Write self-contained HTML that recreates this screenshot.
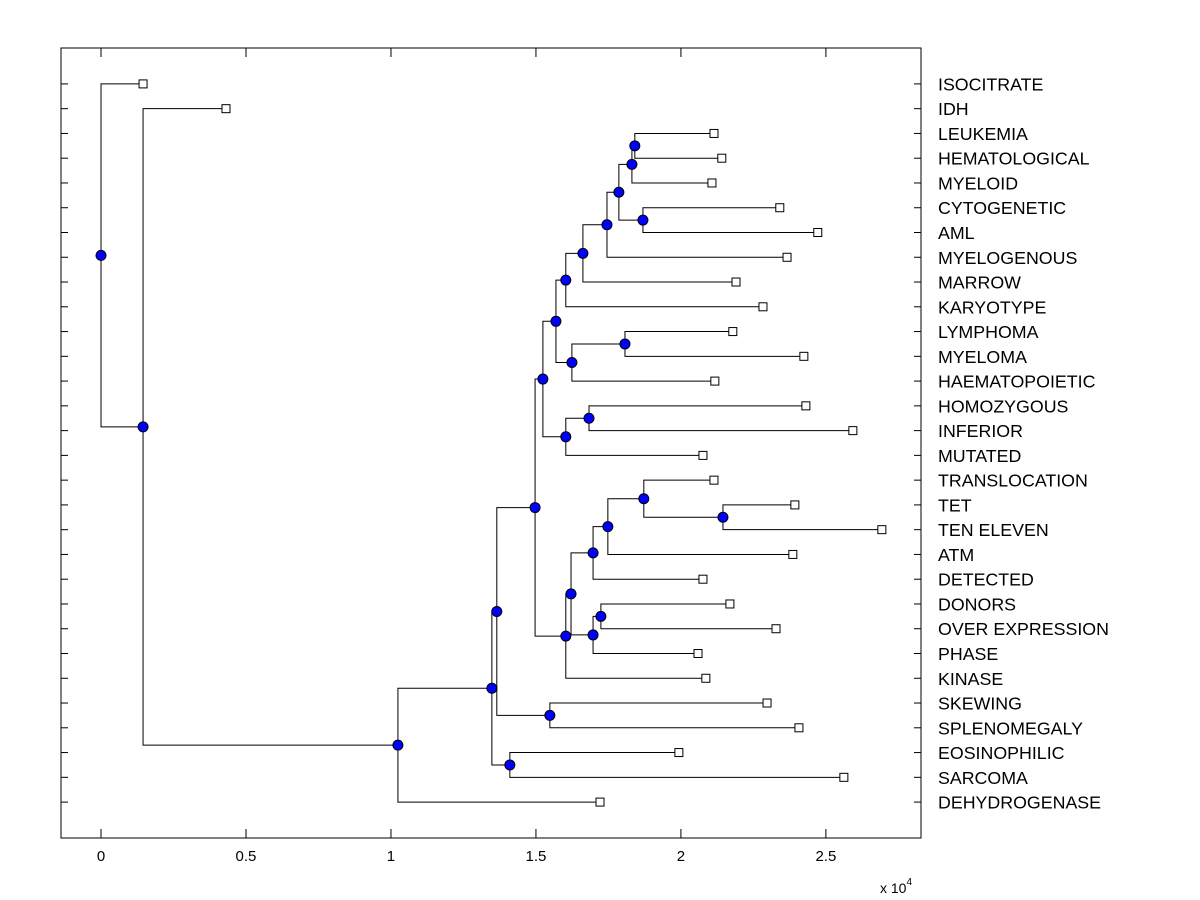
<!DOCTYPE html>
<html><head><meta charset="utf-8"><style>
html,body{margin:0;padding:0;background:#fff;}
svg{display:block;font-family:"Liberation Sans",Arial,sans-serif;}
</style></head><body>
<svg id="chart" width="1200" height="900" viewBox="0 0 1200 900">
<rect x="0" y="0" width="1200" height="900" fill="#fff"/>
</svg>
<script>
const leafLabels = ["ISOCITRATE","IDH","LEUKEMIA","HEMATOLOGICAL","MYELOID","CYTOGENETIC","AML","MYELOGENOUS","MARROW","KARYOTYPE","LYMPHOMA","MYELOMA","HAEMATOPOIETIC","HOMOZYGOUS","INFERIOR","MUTATED","TRANSLOCATION","TET","TEN ELEVEN","ATM","DETECTED","DONORS","OVER EXPRESSION","PHASE","KINASE","SKEWING","SPLENOMEGALY","EOSINOPHILIC","SARCOMA","DEHYDROGENASE"];
const leafValues = [0.145,0.431,2.114,2.141,2.107,2.341,2.472,2.366,2.19,2.283,2.179,2.424,2.117,2.431,2.593,2.076,2.114,2.393,2.693,2.386,2.076,2.169,2.328,2.059,2.086,2.297,2.407,1.993,2.562,1.721];
// internal nodes: [name, height, child1, child2]; children: "L<i>" leaf index or node name
const nodeNames = ["S","Q","R","P","O","N","L","M1","M","J","K1","K","H","T1","T2","T3","T4","T5","T6","T7","I","F","G","D","E","C","B","A","ROOT"];
const nodeHeights = [1.841,1.831,1.869,1.786,1.745,1.662,1.603,1.807,1.624,1.569,1.683,1.603,1.524,2.145,1.872,1.748,1.697,1.724,1.697,1.621,1.603,1.497,1.548,1.365,1.41,1.348,1.024,0.145,0];
const nodeChildren = [["L2","L3"],["S","L4"],["L5","L6"],["Q","R"],["P","L7"],["O","L8"],["N","L9"],["L10","L11"],["M1","L12"],["L","M"],["L13","L14"],["K1","L15"],["J","K"],["L17","L18"],["L16","T1"],["T2","L19"],["T3","L20"],["L21","L22"],["T5","L23"],["T4","T6"],["T7","L24"],["H","I"],["L25","L26"],["F","G"],["L27","L28"],["D","E"],["C","L29"],["L1","B"],["L0","A"]];
const xTicks = [0,0.5,1,1.5,2,2.5];
const xTickLabels = ["0","0.5","1","1.5","2","2.5"];

const NS="http://www.w3.org/2000/svg";
const svg=document.getElementById('chart');
const X0=61,X1=921,Y0=48,Y1=838;
const xMin=-0.138, xMax=2.828;
const xs=v=>X0+(v-xMin)/(xMax-xMin)*(X1-X0);
const nRows=leafLabels.length;
const ys=i=>Y0+(i+1.45)/(nRows-1+2.9)*(Y1-Y0);
function el(tag,attrs){const e=document.createElementNS(NS,tag);for(const k in attrs)e.setAttribute(k,attrs[k]);svg.appendChild(e);return e;}

const box=el('rect',{x:X0,y:Y0,width:X1-X0,height:Y1-Y0,fill:'none',stroke:'#000','stroke-width':1});



leafLabels.forEach((lab,i)=>{
  const y=ys(i);
  const t1=el('line',{x1:X0,x2:X0+7,y1:y,y2:y,stroke:'#000'});
  
  
  const t2=el('line',{x1:X1-7,x2:X1,y1:y,y2:y,stroke:'#000'});
  
  
  const t=el('text',{x:938,y:y+6.5,'font-size':17.8,fill:'#000'});
  t.textContent=lab;
  
  
});
xTicks.forEach((v,i)=>{
  const x=xs(v);
  const a=el('line',{x1:x,x2:x,y1:Y1,y2:Y1-9,stroke:'#000'});
  
  
  const b=el('line',{x1:x,x2:x,y1:Y0,y2:Y0+9,stroke:'#000'});
  
  
  const t=el('text',{x:x,y:861,'font-size':15,'text-anchor':'middle',fill:'#000'});
  t.textContent=xTickLabels[i];
  
  
});
const ex=el('text',{x:880,y:893,'font-size':14,fill:'#000'});
ex.innerHTML='x 10<tspan dy="-8" font-size="10">4</tspan>';



const pos={};
leafLabels.forEach((l,i)=>{pos['L'+i]={x:xs(leafValues[i]),y:ys(i)};});
nodeNames.forEach((n,k)=>{
  const [a,b]=nodeChildren[k];
  pos[n]={x:xs(nodeHeights[k]),y:(pos[a].y+pos[b].y)/2};
});
nodeNames.forEach((n,k)=>{
  const p=pos[n];
  const [a,b]=nodeChildren[k];
  const d=`M${pos[a].x},${pos[a].y}H${p.x}V${pos[b].y}H${pos[b].x}`;
  const path=el('path',{d:d,fill:'none',stroke:'#000','stroke-width':1});
  
  
});
leafLabels.forEach((l,i)=>{
  const p=pos['L'+i];
  const r=el('rect',{x:p.x-4,y:p.y-4,width:8,height:8,fill:'#fff',stroke:'#000'});
  
  
});
nodeNames.forEach(n=>{
  const p=pos[n];
  const c=el('circle',{cx:p.x,cy:p.y,r:5,fill:'#0000ff',stroke:'#000','stroke-width':1});
  
  
});
</script>
</body></html>
